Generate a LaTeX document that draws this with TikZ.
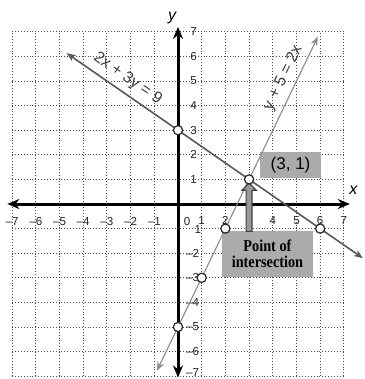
\documentclass[tikz,border=0pt]{standalone}
\usepackage{fontspec}
\setmainfont{Liberation Sans}
\newfontfamily\serifbold[FakeStretch=0.86]{Liberation Serif Bold}
\usetikzlibrary{arrows.meta}
\begin{document}
\begin{tikzpicture}[x=11.85pt,y=12.3pt,
  gridline/.style={densely dotted, black!70, line width=0.45pt},
  axisline/.style={line width=1.5pt, black, {Stealth[length=6pt,width=5pt]}-{Stealth[length=6pt,width=5pt]}},
  lineA/.style={line width=0.8pt, black!65, {Stealth[length=4.5pt,width=3.5pt]}-{Stealth[length=4.5pt,width=3.5pt]}},
  lineB/.style={line width=0.55pt, black!45, {Stealth[length=4.5pt,width=3.5pt]}-{Stealth[length=4.5pt,width=3.5pt]}},
  ticklab/.style={font=\fontsize{5.8}{6}\selectfont, text=black!85, inner sep=0pt},
  axislab/.style={font=\fontsize{8}{9}\selectfont\itshape, inner sep=0pt},
  eqlab/.style={font=\fontsize{8}{9}\selectfont, text=black!75, sloped, above=2.2pt, inner sep=0.5pt},
  pt/.style={circle, draw=black!85, fill=white, line width=0.6pt, minimum size=4.6pt, inner sep=0pt},
  graybox/.style={fill=black!33, inner sep=0pt, align=center},
]
\useasboundingbox[fill=white] (-7.511,-7.114) rectangle (7.890,8.293);

% grid
\foreach \i in {-7,...,7} {
  \draw[gridline] (\i,-7) -- (\i,7);
  \draw[gridline] (-7,\i) -- (7,\i);
}

% boxes
\node[graybox, minimum width=30.8pt, minimum height=12.8pt, font=\fontsize{8.5}{9}\selectfont] (pbox) at (4.75,1.58) {(3, 1)};
\node[graybox, minimum width=45.6pt, minimum height=22.8pt, font=\fontsize{8.3}{7.8}\selectfont\serifbold] (ibox) at (3.775,-2.025) {Point of\\intersection};

% axes
\coordinate (xl) at (-7.2,0);
\coordinate (xr) at (7.25,0);
\coordinate (yb) at (0,-7.05);
\coordinate (yt) at (0,7.2);
\draw[axisline] (xl) -- (xr);
\draw[axisline] (yb) -- (yt);
\node[axislab] (xlab) at (7.4,0.57) {x};
\node[axislab] (ylab) at (-0.25,7.55) {y};

% tick labels
\foreach \k in {-7,...,-1} {
  \node[ticklab] (xt\k) at (\k,-0.72) {–\the\numexpr-\k\relax};
}
\foreach \k in {1,2,4,5,6,7} {
  \node[ticklab] (xtp\k) at (\k,-0.68) {\k};
}
\node[ticklab] (zero) at (0.38,-0.72) {0};
\foreach \k in {1,...,7} {
  \node[ticklab] (ytp\k) at (0.66,\k) {\k};
}
\node[ticklab] (ytm1) at (0.84,-1.03) {1};
\foreach \k in {-6,...,-2} {
  \node[ticklab] (ytm\k) at (0.62,\k) {–\the\numexpr-\k\relax};
}
\node[ticklab] (ytm7) at (0.62,-6.86) {–7};

% lines
\coordinate (a1) at (-4.7,6.133);
\coordinate (a2) at (7.8,-2.2);
\draw[lineA] (a1) -- node[eqlab, pos=0.18] (eqA) {2x + 3y = 9} (a2);
\coordinate (b1) at (-0.89,-6.78);
\coordinate (b2) at (5.9,6.8);
\draw[lineB] (b1) -- node[eqlab, pos=0.86] (eqB) {y + 5 = 2x} (b2);

% arrow from box to point
\draw[fill=black!40, draw=black!75, line width=0.6pt]
  (3,0.86) -- (3.3,0.56) -- (3.125,0.56) -- (3.125,-1.113) -- (2.875,-1.113) -- (2.875,0.56) -- (2.7,0.56) -- cycle;

% points
\node[pt] (p03) at (0,3) {};
\node[pt] (p31) at (3,1) {};
\node[pt] (p6m1) at (6,-1) {};
\node[pt] (p2m1) at (2,-1) {};
\node[pt] (p1m3) at (1,-3) {};
\node[pt] (p0m5) at (0,-5) {};
\end{tikzpicture}
\end{document}
